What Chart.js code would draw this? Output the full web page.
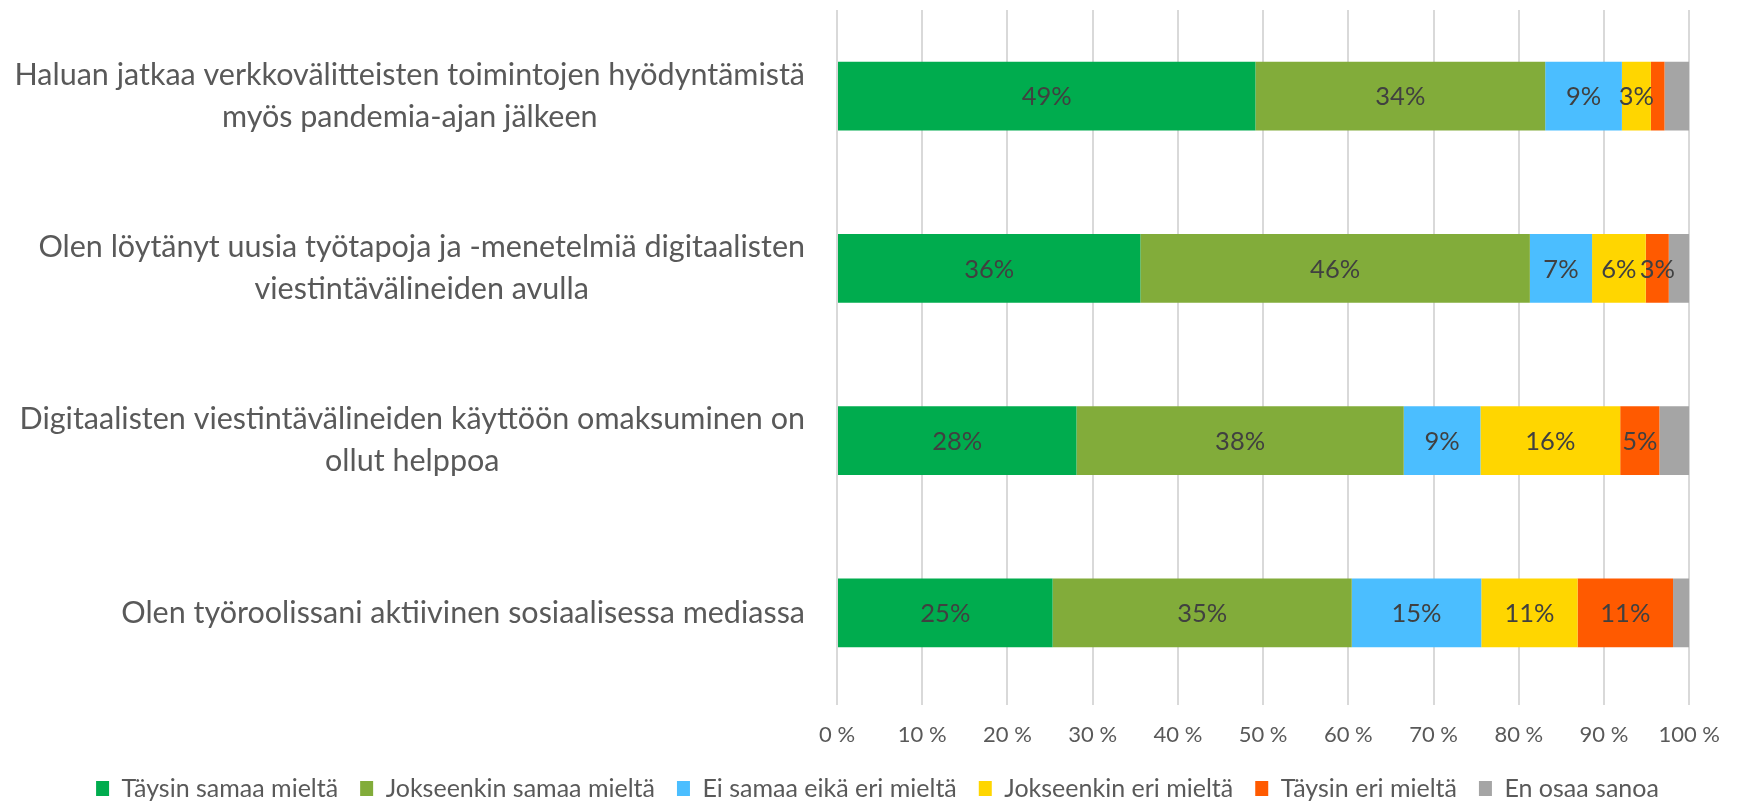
<!DOCTYPE html>
<html>
<head>
<meta charset="utf-8">
<script src="https://cdn.jsdelivr.net/npm/chart.js@4"></script>
<style>
    html, body {
        margin: 0;
        padding: 0;
        background: #ffffff;
    }
    #wrap {
        width: 1737px;
        height: 801px;
    }
</style>
</head>
<body>
<div id="wrap">
    <canvas id="chart"></canvas>
</div>
<script>

const FONT = "Lato, 'Liberation Sans', sans-serif";

const categories = [
    ["Haluan jatkaa verkkovälitteisten toimintojen hyödyntämistä", "myös pandemia-ajan jälkeen"],
    ["Olen löytänyt uusia työtapoja ja -menetelmiä digitaalisten", "viestintävälineiden avulla"],
    ["Digitaalisten viestintävälineiden käyttöön omaksuminen on", "ollut helppoa"],
    ["Olen työroolissani aktiivinen sosiaalisessa mediassa"]
];

const seriesNames = [
    "Täysin samaa mieltä",
    "Jokseenkin samaa mieltä",
    "Ei samaa eikä eri mieltä",
    "Jokseenkin eri mieltä",
    "Täysin eri mieltä",
    "En osaa sanoa"
];

const taysinSamaa = [49.1, 35.6, 28.1, 25.3];
const jokseenkinSamaa = [34.0, 45.7, 38.4, 35.1];
const eiSamaaEikaEri = [9.0, 7.3, 9.0, 15.2];
const jokseenkinEri = [3.4, 6.3, 16.4, 11.3];
const taysinEri = [1.6, 2.7, 4.6, 11.2];
const enOsaaSanoa = [2.9, 2.4, 3.5, 1.9];

const xTicks = [0, 10, 20, 30, 40, 50, 60, 70, 80, 90, 100];

const seriesColors = [
    "#00ac4e",
    "#82ac3a",
    "#4bbeff",
    "#ffd600",
    "#ff5a00",
    "#a5a5a5"
];

const seriesValues = [
    taysinSamaa,
    jokseenkinSamaa,
    eiSamaaEikaEri,
    jokseenkinEri,
    taysinEri,
    enOsaaSanoa
];

// value labels in the middle of each segment (gray ones left out)
const segmentLabels = {
    id: "segmentLabels",
    afterDatasetsDraw(chart) {
        const ctx = chart.ctx;
        ctx.save();
        ctx.font = "25.5px " + FONT;
        ctx.fillStyle = "#404040";
        ctx.textAlign = "center";
        ctx.textBaseline = "middle";
        chart.data.datasets.forEach((ds, d) => {
            if (d === 5) return;
            chart.getDatasetMeta(d).data.forEach((bar, i) => {
                const v = ds.data[i];
                if (v < 2.5) return;
                ctx.fillText(
                    Math.round(v) + "%",
                    (bar.x + bar.base) / 2,
                    bar.y + 1
                );
            });
        });
        ctx.restore();
    }
};

// category labels: block right aligned, lines centred like in Excel
const categoryLabels = {
    id: "categoryLabels",
    afterDraw(chart) {
        const ctx = chart.ctx;
        const yScale = chart.scales.y;
        const rightEdge = 805;
        const lineHeight = 42;
        ctx.save();
        ctx.font = "30.5px " + FONT;
        ctx.fillStyle = "#595959";
        ctx.textAlign = "center";
        ctx.textBaseline = "middle";
        categories.forEach((lines, i) => {
            const y = yScale.getPixelForTick(i);
            const widest = Math.max(...lines.map(l => ctx.measureText(l).width));
            const cx = rightEdge - widest / 2;
            const top = y - (lines.length - 1) * lineHeight / 2;
            lines.forEach((line, k) => {
                ctx.fillText(line, cx, top + k * lineHeight);
            });
        });
        ctx.restore();
    }
};

// the legend sits a bit right of the canvas centre
const legendShift = {
    id: "legendShift",
    afterLayout(chart) {
        if (!chart.legend) return;
        chart.legend.left += 32;
        chart.legend.right += 32;
    }
};

new Chart(document.getElementById("chart"), {

    type: "bar",

    data: {
        labels: categories,
        datasets: seriesNames.map((name, i) => ({
            label: name,
            data: seriesValues[i],
            backgroundColor: seriesColors[i],
            borderWidth: 0,
            barPercentage: 0.4,
            categoryPercentage: 1
        }))
    },

    options: {

        indexAxis: "y",

        responsive: true,

        maintainAspectRatio: false,

        animation: false,

        layout: {
            padding: {
                top: 10,
                left: 0,
                right: 46,
                bottom: -10
            }
        },

        scales: {

            x: {
                stacked: true,
                min: 0,
                max: 100,
                afterBuildTicks(scale) {
                    scale.ticks = xTicks.map(v => ({ value: v }));
                },
                afterFit(scale) {
                    scale.height = 55;
                },
                grid: {
                    color: "#d9d9d9",
                    lineWidth: 2,
                    drawTicks: true,
                    tickLength: 6
                },
                border: {
                    display: false
                },
                ticks: {
                    padding: 17,
                    color: "#595959",
                    font: {
                        family: FONT,
                        size: 22
                    },
                    callback: v => v + " %"
                }
            },

            y: {
                stacked: true,
                afterFit(scale) {
                    scale.width = 837;
                },
                grid: {
                    display: false
                },
                border: {
                    display: false
                },
                ticks: {
                    display: false
                }
            }
        },

        plugins: {

            legend: {
                position: "bottom",
                labels: {
                    boxWidth: 13,
                    boxHeight: 15,
                    padding: 22,
                    color: "#595959",
                    font: {
                        family: FONT,
                        size: 25
                    }
                }
            },

            tooltip: {
                enabled: false
            }
        }
    },

    plugins: [segmentLabels, categoryLabels, legendShift]
});

</script>
</body>
</html>
